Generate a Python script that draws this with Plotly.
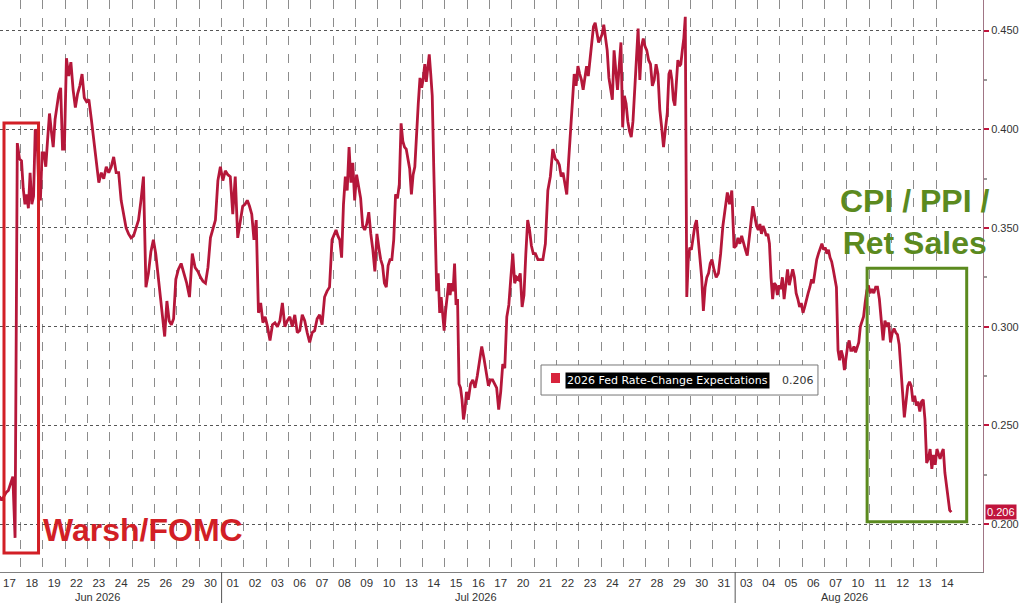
import plotly.graph_objects as go

# trading days shown on the axis
day_labels = ['17', '18', '19', '22', '23', '24', '25', '26', '29', '30',
              '01', '02', '03', '06', '07', '08', '09', '10', '13', '14', '15', '16', '17',
              '20', '21', '22', '23', '24', '27', '28', '29', '30', '31',
              '03', '04', '05', '06', '07', '10', '11', '12', '13', '14']
month_labels = ['Jun 2026', 'Jul 2026', 'Aug 2026']

# intraday readings, one list per trading day
jun = [
    [0.214, 0.212, 0.214, 0.216, 0.217, 0.220, 0.224, 0.193, 0.393, 0.385],
    [0.384, 0.370, 0.362, 0.367, 0.360, 0.378, 0.362, 0.366, 0.400, 0.398, 0.371, 0.364, 0.388],
    [0.388, 0.381, 0.395, 0.408, 0.399, 0.391, 0.405, 0.412, 0.418, 0.421, 0.390, 0.390],
    [0.436, 0.427, 0.434, 0.420, 0.411, 0.418, 0.422, 0.428, 0.416, 0.414],
    [0.415, 0.405, 0.394, 0.381, 0.373, 0.378, 0.375, 0.381, 0.378],
    [0.381, 0.386, 0.378, 0.378, 0.364, 0.357, 0.350, 0.347, 0.345],
    [0.346, 0.350, 0.354, 0.364, 0.376, 0.320, 0.327, 0.338, 0.344],
    [0.337, 0.327, 0.315, 0.307, 0.295, 0.313, 0.303, 0.301, 0.304, 0.324],
    [0.329, 0.332, 0.327, 0.322, 0.315, 0.337, 0.330, 0.328],
    [0.325, 0.323, 0.322, 0.330, 0.345, 0.350, 0.354, 0.374, 0.381],
]
jul = [
    [0.374, 0.379, 0.377, 0.376, 0.357, 0.376, 0.345, 0.352, 0.361],
    [0.362, 0.364, 0.361, 0.357, 0.344, 0.354, 0.307, 0.312, 0.302, 0.305],
    [0.300, 0.293, 0.301, 0.302, 0.300, 0.303, 0.312, 0.300, 0.303],
    [0.305, 0.300, 0.306, 0.297, 0.298, 0.306, 0.303, 0.297, 0.292],
    [0.297, 0.298, 0.304, 0.306, 0.301, 0.315, 0.318, 0.320, 0.344],
    [0.347, 0.349, 0.346, 0.344, 0.335, 0.362, 0.376, 0.369, 0.391, 0.373, 0.383, 0.364],
    [0.377, 0.370, 0.365, 0.351, 0.349, 0.352, 0.358, 0.347, 0.339, 0.328, 0.347],
    [0.340, 0.334, 0.331, 0.322, 0.320, 0.331, 0.334, 0.334, 0.344, 0.367, 0.365, 0.372],
    [0.403, 0.394, 0.391, 0.390, 0.385, 0.380, 0.367, 0.377, 0.381, 0.400, 0.413, 0.426, 0.421],
    [0.426, 0.433, 0.424, 0.432, 0.438, 0.428, 0.417, 0.381, 0.347, 0.318, 0.327, 0.307, 0.315, 0.306, 0.298],
    [0.308, 0.316, 0.322, 0.316, 0.322, 0.318, 0.332, 0.311, 0.314, 0.271, 0.269, 0.263, 0.253, 0.258, 0.267],
    [0.263, 0.271, 0.273, 0.269, 0.275, 0.283, 0.290, 0.284, 0.278, 0.270],
    [0.273, 0.273, 0.271, 0.269, 0.258, 0.267, 0.281, 0.279, 0.305, 0.311, 0.325],
    [0.337, 0.322, 0.325, 0.324, 0.327, 0.310, 0.316, 0.337, 0.354, 0.349, 0.341, 0.337],
    [0.337, 0.334, 0.334, 0.334, 0.342, 0.369, 0.376, 0.390, 0.385],
    [0.384, 0.382, 0.376, 0.378, 0.373, 0.367, 0.384, 0.398, 0.415, 0.428, 0.422, 0.432],
    [0.428, 0.425, 0.420, 0.425, 0.432, 0.427, 0.435, 0.444, 0.452, 0.454, 0.448, 0.444, 0.446],
    [0.448, 0.453, 0.447, 0.440, 0.426, 0.421, 0.415, 0.440, 0.430, 0.420, 0.432, 0.444, 0.401],
    [0.417, 0.413, 0.404, 0.399, 0.396, 0.404, 0.420, 0.432, 0.451, 0.425, 0.442, 0.446, 0.442],
    [0.440, 0.435, 0.433, 0.422, 0.425, 0.433, 0.428, 0.410, 0.401, 0.391, 0.400, 0.408],
    [0.428, 0.430, 0.425, 0.415, 0.412, 0.424, 0.435, 0.432, 0.433, 0.440, 0.446, 0.457, 0.315, 0.334, 0.340],
    [0.339, 0.345, 0.351, 0.354, 0.344, 0.334, 0.325, 0.308, 0.320, 0.325, 0.327, 0.332, 0.334],
    [0.329, 0.325, 0.327, 0.337, 0.351, 0.359, 0.368, 0.362, 0.369, 0.340],
]
aug = [
    [0.341, 0.345, 0.342, 0.346, 0.342, 0.339, 0.336, 0.345, 0.352, 0.361, 0.356, 0.351],
    [0.349, 0.352, 0.347, 0.351, 0.349, 0.346, 0.347, 0.342, 0.325, 0.314, 0.322, 0.321, 0.316, 0.321],
    [0.319, 0.325, 0.314, 0.321, 0.329, 0.321, 0.325, 0.329, 0.325, 0.317, 0.314, 0.310, 0.312],
    [0.307, 0.310, 0.314, 0.317, 0.320, 0.324, 0.322, 0.329, 0.334, 0.337, 0.340, 0.342, 0.339],
    [0.340, 0.337, 0.339, 0.335, 0.333, 0.329, 0.325, 0.320, 0.288, 0.283, 0.288, 0.285, 0.278, 0.285],
    [0.290, 0.293, 0.288, 0.288, 0.290, 0.287, 0.290, 0.292, 0.300, 0.303, 0.305, 0.312, 0.318, 0.321],
    [0.317, 0.319, 0.317, 0.320, 0.320, 0.314, 0.305, 0.293, 0.303, 0.300, 0.302, 0.292],
    [0.297, 0.299, 0.297, 0.296, 0.291, 0.280, 0.267, 0.254, 0.262, 0.270, 0.272, 0.270, 0.262],
    [0.265, 0.260, 0.262, 0.257, 0.262, 0.263, 0.253, 0.231, 0.233, 0.238, 0.228, 0.235, 0.230],
    # last session still open
    [0.238, 0.236, 0.233, 0.236, 0.238, 0.226, 0.219, 0.212, 0.207, 0.206, None, None, None, None],
]

series_name = '2026 Fed Rate-Change Expectations'
y_ticks = [0.200, 0.250, 0.300, 0.350, 0.400, 0.450]

LINE = '#b5173a'
RED = '#d21f26'
GREEN = '#5b8a1f'
FONT = 'Liberation Sans'
SMALL = 'DejaVu Sans'

# spread each day's readings across its slot on the axis
days = jun + jul + aug
xs, ys = [], []
for i, vals in enumerate(days):
    n = len(vals)
    for k, v in enumerate(vals):
        if v is None:
            continue
        xs.append(i - 0.5 + (k + 0.5) / n)
        ys.append(v)
last = ys[-1]

x_range = [-0.425, 43.6]
y_range = [0.1757, 0.4655]


def xpaper(x):
    return (x - x_range[0]) / (x_range[1] - x_range[0])


fig = go.Figure()
fig.add_trace(go.Scatter(x=xs, y=ys, mode='lines', name=series_name,
                         line=dict(color=LINE, width=2.8), hoverinfo='y'))

month_bounds = [len(jun) - 0.5, len(jun) + len(jul) - 0.5]
month_centers = [3.96, 20.9, 37.4]

shapes = []
for b in month_bounds:
    shapes.append(dict(type='line', xref='paper', yref='paper', x0=xpaper(b), x1=xpaper(b),
                       y0=0, y1=-0.055, line=dict(color='#555', width=1)))
# event boxes
shapes.append(dict(type='rect', xref='x', yref='y', x0=-0.246, x1=1.30, y0=0.1853, y1=0.4032,
                   line=dict(color=RED, width=3)))
shapes.append(dict(type='rect', xref='x', yref='y', x0=38.41, x1=42.87, y0=0.2012, y1=0.3296,
                   line=dict(color=GREEN, width=3)))
# legend box
shapes.append(dict(type='rect', xref='paper', yref='paper', x0=0.5504, x1=0.8321, y0=0.3094, y1=0.3619,
                   line=dict(color='#777', width=1), fillcolor='white', layer='above'))
shapes.append(dict(type='rect', xref='paper', yref='paper', x0=0.5605, x1=0.5697, y0=0.3304, y1=0.3479,
                   line=dict(width=0), fillcolor='#d8243c', layer='above'))

annotations = []
for lab, c in zip(month_labels, month_centers):
    annotations.append(dict(text=lab, x=c, xref='x', y=-0.044, yref='paper', yanchor='middle',
                            showarrow=False, font=dict(family=FONT, size=11, color='#333')))
annotations.append(dict(text='<b>Warsh/FOMC</b>', x=5.96, xref='x', y=0.197, yref='y', showarrow=False,
                        font=dict(family=FONT, size=32, color=RED)))
annotations.append(dict(text='<b>CPI / PPI /<br>Ret Sales</b>', x=40.55, xref='x', y=0.3528, yref='y',
                        showarrow=False, align='center',
                        font=dict(family=FONT, size=32, color=GREEN)))
annotations.append(dict(text=series_name, x=0.5748, xref='paper', y=0.3356, yref='paper',
                        xanchor='left', showarrow=False, bgcolor='black', borderpad=1,
                        font=dict(family=SMALL, size=11, color='white')))
annotations.append(dict(text=f'{last:.3f}', x=0.7935, xref='paper', y=0.3356, yref='paper',
                        xanchor='left', showarrow=False,
                        font=dict(family=SMALL, size=11, color='#333')))
annotations.append(dict(text=f'{last:.3f}', x=1.002, xref='paper', y=last, yref='y',
                        xanchor='left', showarrow=False, bgcolor='#c0143c', borderpad=1,
                        font=dict(family=FONT, size=11, color='white')))

fig.update_layout(width=1024, height=603, margin=dict(l=0, r=41, t=0, b=31),
                  plot_bgcolor='white', paper_bgcolor='white', showlegend=False,
                  shapes=shapes, annotations=annotations)

fig.update_xaxes(range=x_range, tickmode='array', tickvals=list(range(len(day_labels))),
                 ticktext=day_labels, ticks='', showgrid=False, zeroline=False,
                 showline=True, linecolor='#808080', linewidth=1,
                 tickfont=dict(family=FONT, size=11.5, color='#333'),
                 minor=dict(tickmode='array', tickvals=[i + 0.5 for i in range(len(day_labels) - 1)],
                            showgrid=True, gridcolor='#8c8c8c', griddash='dash', gridwidth=1, ticks=''))

fig.update_yaxes(side='right', range=y_range, tickmode='array', tickvals=y_ticks, tickformat='.3f',
                 showgrid=True, gridcolor='#555', griddash='dot', gridwidth=1, zeroline=False,
                 ticks='outside', ticklen=5, tickcolor='#c0143c', tickwidth=2,
                 showline=True, linecolor='#a07585', linewidth=1,
                 tickfont=dict(family=FONT, size=11, color='#333'),
                 minor=dict(tickmode='linear', tick0=0.225, dtick=0.05, ticks='outside', ticklen=3,
                            tickcolor='#999', showgrid=False))

# page body margin would shift the figure off the window edges
fig.write_html('out.html', config={'displayModeBar': False},
               post_script="document.body.style.margin='0';")
